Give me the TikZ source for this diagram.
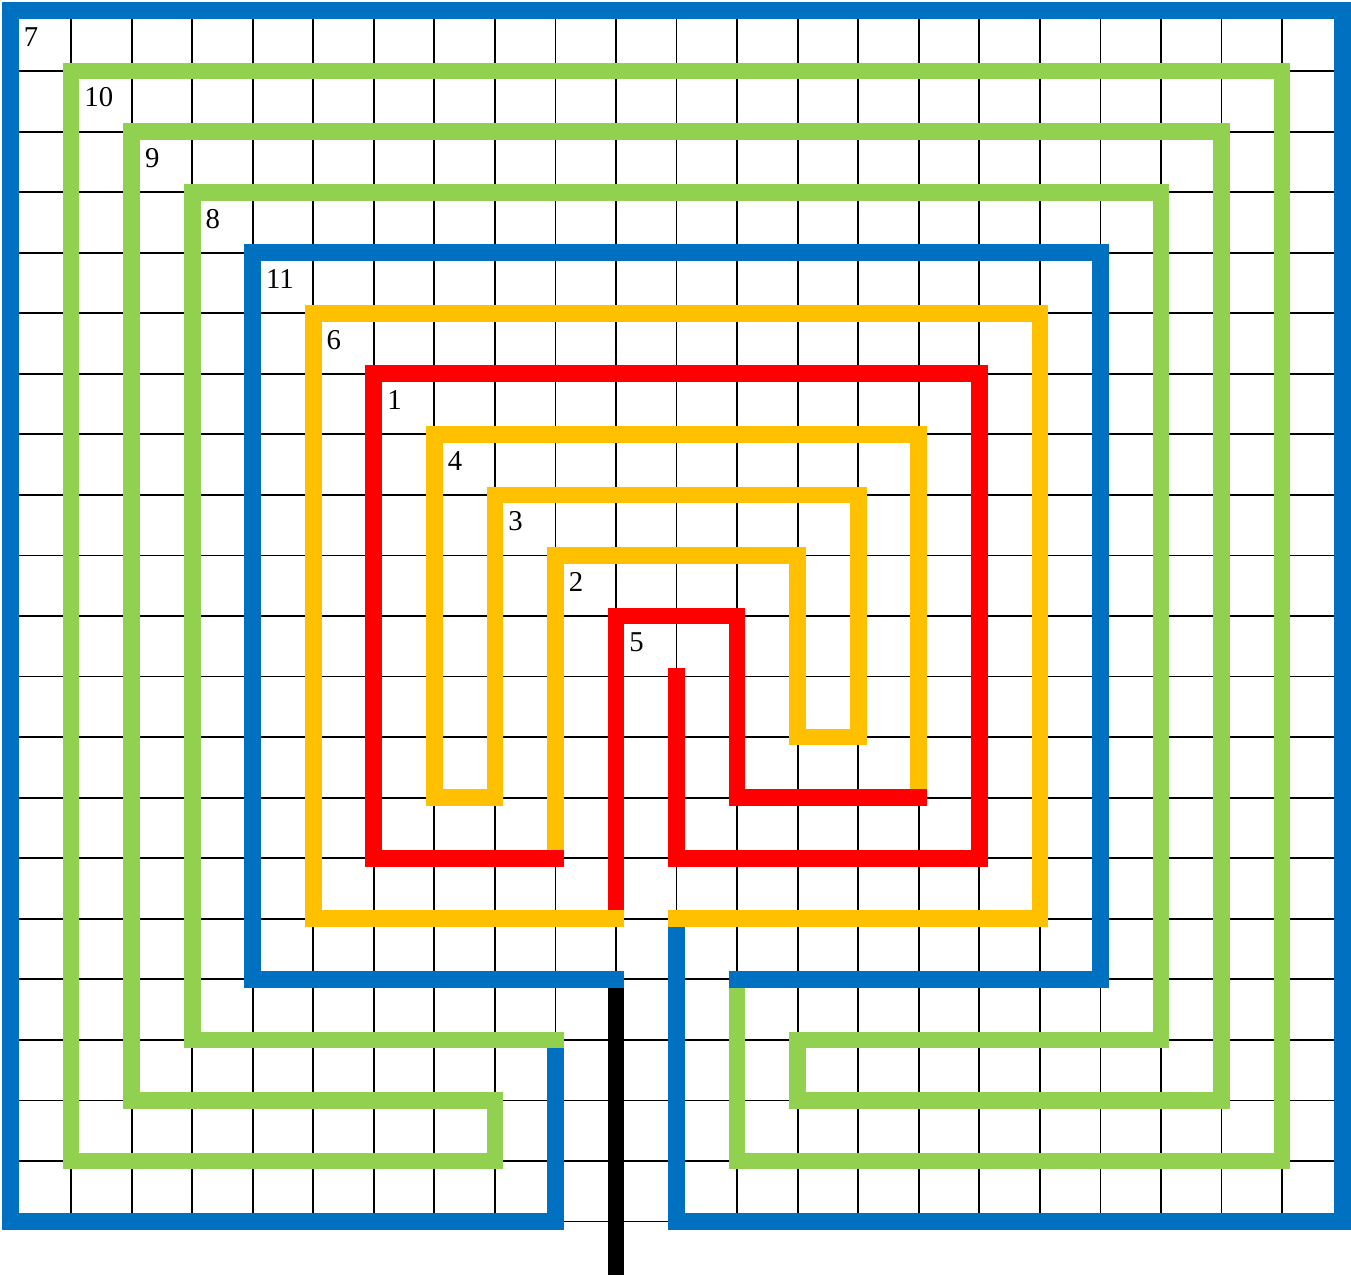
\documentclass[tikz,border=0pt]{standalone}
\usepackage{fontspec}
\setmainfont{Liberation Serif}
\definecolor{cblue}{HTML}{0070C0}
\definecolor{cgreen}{HTML}{92D050}
\definecolor{cyellow}{HTML}{FFC000}
\definecolor{cred}{HTML}{FF0000}
\tikzset{
  gridline/.style={line width=0.03cm, black},
  wall/.style={line width=0.276cm, line cap=rect, line join=miter},
  lbl/.style={anchor=base west, inner sep=0pt, font=\fontsize{13.5}{15}\selectfont}
}
\begin{document}
\begin{tikzpicture}
\useasboundingbox (-0.1734,0.1734) rectangle (22.138,-20.886);
% grid
\draw[gridline] (0,-20) grid (22,0);
% circuit 7 (outer, blue)
\draw[wall, cblue] (9,-17)--(9,-20)--(0,-20)--(0,0)--(22,0)--(22,-20)--(11,-20)--(11,-15);
% yellow inner circuits 4,3,2
\draw[wall, cyellow] (15,-13)--(15,-7)--(7,-7)--(7,-13)--(8,-13)--(8,-8)--(14,-8)--(14,-12)--(13,-12)--(13,-9)--(9,-9)--(9,-14);
% red circuit 5
\draw[wall, cred] (10,-15)--(10,-10)--(12,-10)--(12,-13)--(15,-13);
% red circuit 1 to centre
\draw[wall, cred] (9,-14)--(6,-14)--(6,-6)--(16,-6)--(16,-14)--(11,-14)--(11,-11);
% yellow circuit 6
\draw[wall, cyellow] (11,-15)--(17,-15)--(17,-5)--(5,-5)--(5,-15)--(10,-15);
% green circuits 10,9,8
\draw[wall, cgreen] (12,-16)--(12,-19)--(21,-19)--(21,-1)--(1,-1)--(1,-19)--(8,-19)--(8,-18)--(2,-18)--(2,-2)--(20,-2)--(20,-18)--(13,-18)--(13,-17)--(19,-17)--(19,-3)--(3,-3)--(3,-17)--(9,-17);
% entrance
\draw[line width=0.276cm, line cap=butt, black] (10,-20.886)--(10,-16);
% blue circuit 11
\draw[wall, cblue] (10,-16)--(4,-16)--(4,-4)--(18,-4)--(18,-16)--(12,-16);
% labels
\node[lbl] (l7)  at (0.215,-0.593) {7};
\node[lbl] (l10) at (1.215,-1.593) {10};
\node[lbl] (l9)  at (2.215,-2.593) {9};
\node[lbl] (l8)  at (3.215,-3.593) {8};
\node[lbl] (l11) at (4.215,-4.593) {11};
\node[lbl] (l6)  at (5.215,-5.593) {6};
\node[lbl] (l1)  at (6.215,-6.593) {1};
\node[lbl] (l4)  at (7.215,-7.593) {4};
\node[lbl] (l3)  at (8.215,-8.593) {3};
\node[lbl] (l2)  at (9.215,-9.593) {2};
\node[lbl] (l5)  at (10.215,-10.593) {5};
\end{tikzpicture}
\end{document}
